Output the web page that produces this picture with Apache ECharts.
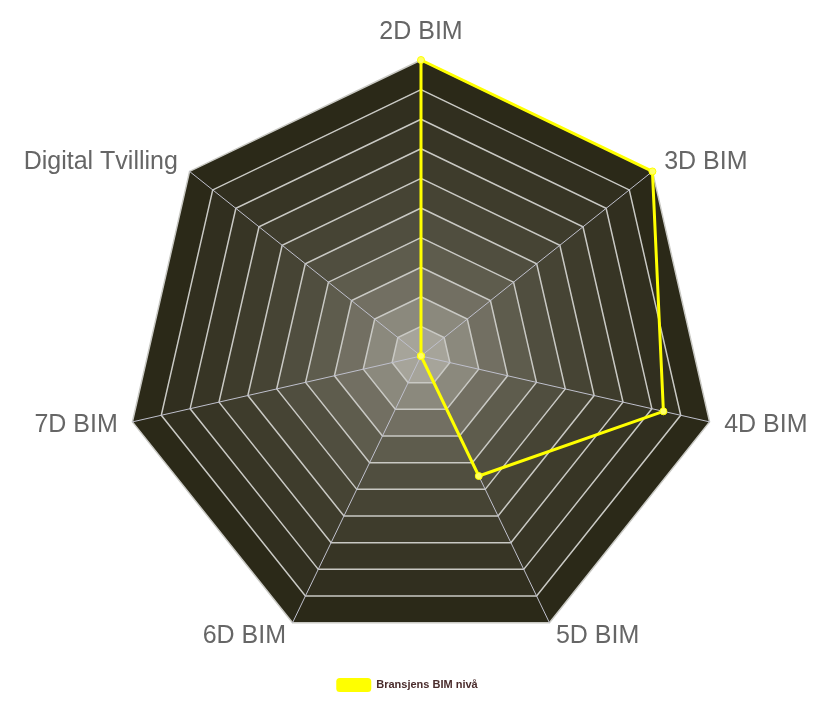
<!DOCTYPE html>
<html>
<head>
<meta charset="utf-8">
<style>html,body{margin:0;padding:0;background:#fff;}#chart{width:814px;height:722px;}</style>
<script src="https://cdn.jsdelivr.net/npm/echarts@6/dist/echarts.min.js"></script>
</head>
<body>
<div id="chart"></div>
<script>
var categories = ['2D BIM', '3D BIM', '4D BIM', '5D BIM', '6D BIM', '7D BIM', 'Digital Tvilling'];
var seriesName = 'Bransjens BIM nivå';
var values = [100, 100, 84, 45, 0, 0, 0];
var maxValue = 100;
var ringCount = 10;

var ringColors = ['#a6a49a', '#8b897d', '#726f62', '#5e5c4d', '#504e3f', '#464434', '#3e3c2c', '#373525', '#312f1f', '#2b2918'];

// ECharts lays radar axes out counter-clockwise; reorder so the categories run clockwise.
var order = [0].concat(categories.slice(1).map(function (_, i) { return categories.length - 1 - i; }));
var cwCategories = order.map(function (i) { return categories[i]; });
var cwValues = order.map(function (i) { return values[i]; });

var chart = echarts.init(document.getElementById('chart'));
chart.setOption({
  backgroundColor: '#ffffff',
  animation: false,
  legend: {
    top: 673,
    left: 'center',
    data: [seriesName],
    icon: 'roundRect',
    itemWidth: 35,
    itemHeight: 14,
    itemGap: 8,
    itemStyle: { color: '#ffff00', borderWidth: 0 },
    textStyle: { fontFamily: 'Liberation Sans, Arial', fontWeight: 'bold', fontSize: 11, color: '#4a2c2c' }
  },
  radar: {
    center: [421, 356],
    radius: 296,
    startAngle: 90,
    splitNumber: ringCount,
    shape: 'polygon',
    indicator: cwCategories.map(function (c) { return { name: c, max: maxValue, min: 0 }; }),
    axisName: { color: '#666666', fontSize: 25, fontFamily: 'Liberation Sans, Arial' },
    nameGap: 15,
    splitArea: { show: true, areaStyle: { color: ringColors } },
    splitLine: { lineStyle: { color: '#c9c9c4', width: 1.5 } },
    axisLine: { lineStyle: { color: '#bfc0cc', width: 1 } },
    axisTick: { show: false },
    axisLabel: { show: false }
  },
  series: [{
    type: 'radar',
    name: seriesName,
    symbol: 'circle',
    symbolSize: 7,
    lineStyle: { color: '#ffff00', width: 3 },
    itemStyle: { color: '#ffff66', borderColor: '#ffff00', borderWidth: 1 },
    data: [{ value: cwValues, name: seriesName }]
  }]
});
</script>
</body>
</html>
